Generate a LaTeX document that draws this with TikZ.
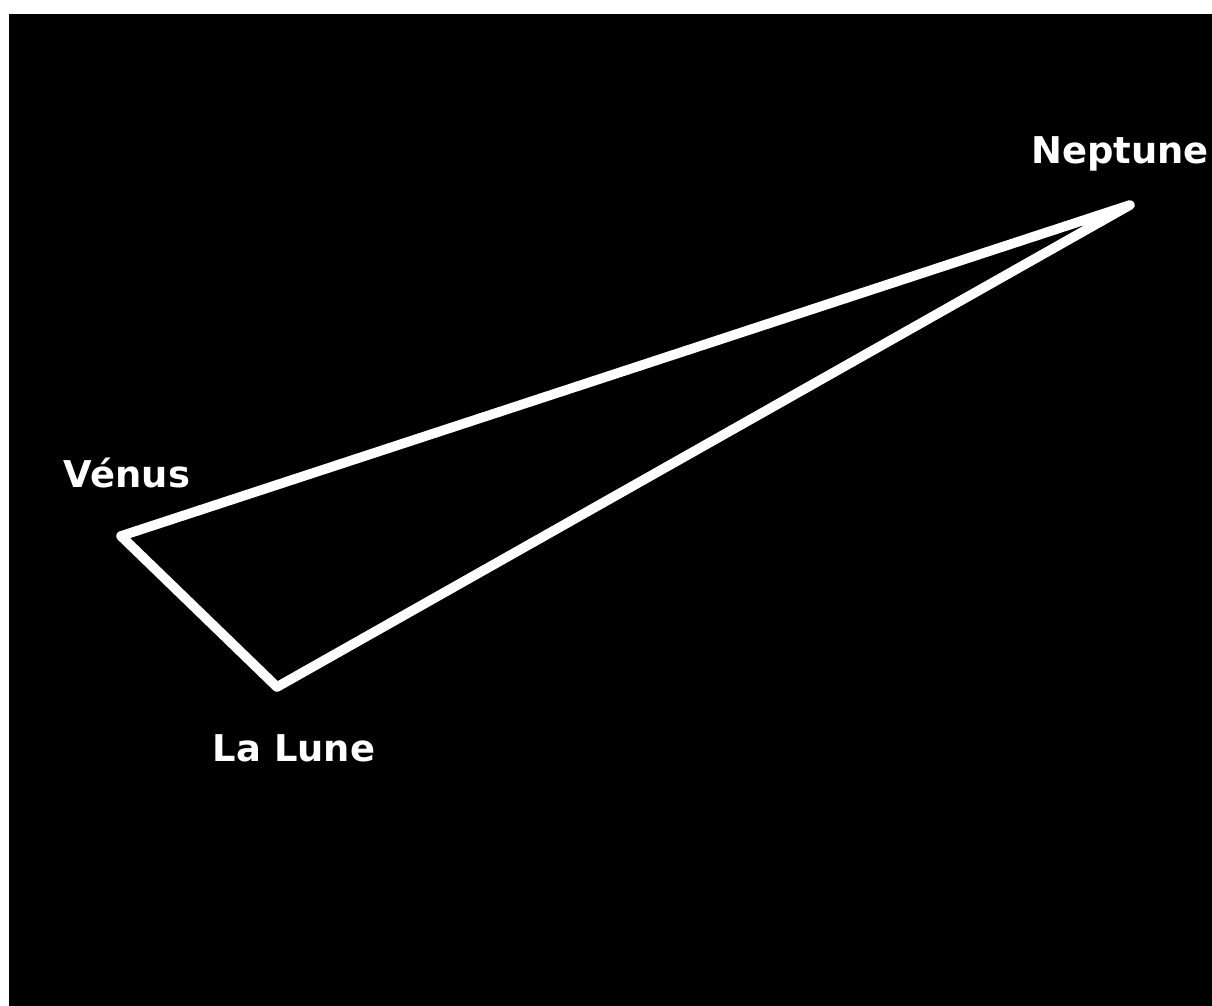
\documentclass[tikz,border=0pt]{standalone}
\usepackage{fontspec}
\newfontfamily\planetfont{DejaVu Sans}
\tikzset{
    planet/.style={text=white, font=\planetfont\bfseries\fontsize{21}{25}\selectfont, inner sep=0pt},
    edge/.style={white, line width=5.5pt, line cap=round, line join=round}
}
\begin{document}
\begin{tikzpicture}[x=0.02cm, y=-0.02cm]
            % Background
            \fill[white] (0,0) rectangle (1212,1006);
            \fill[black] (9,14) rectangle (1212,1006);
            \useasboundingbox (0,0) rectangle (1212,1006);

            % Corners of the triangle
            \coordinate (venus) at (121,536);
            \coordinate (lune) at (277,687);
            \coordinate (neptune) at (1130,205);

            % Names
            \node[planet] (venuslabel) at (127,473) {Vénus};
            \node[planet] (lunelabel) at (294,748) {La Lune};
            \node[planet] (neptunelabel) at (1120,154) {Neptune};

            % Sides
            \draw[edge] (venus) -- (lune) -- (neptune) -- cycle;
        \end{tikzpicture}
\end{document}
